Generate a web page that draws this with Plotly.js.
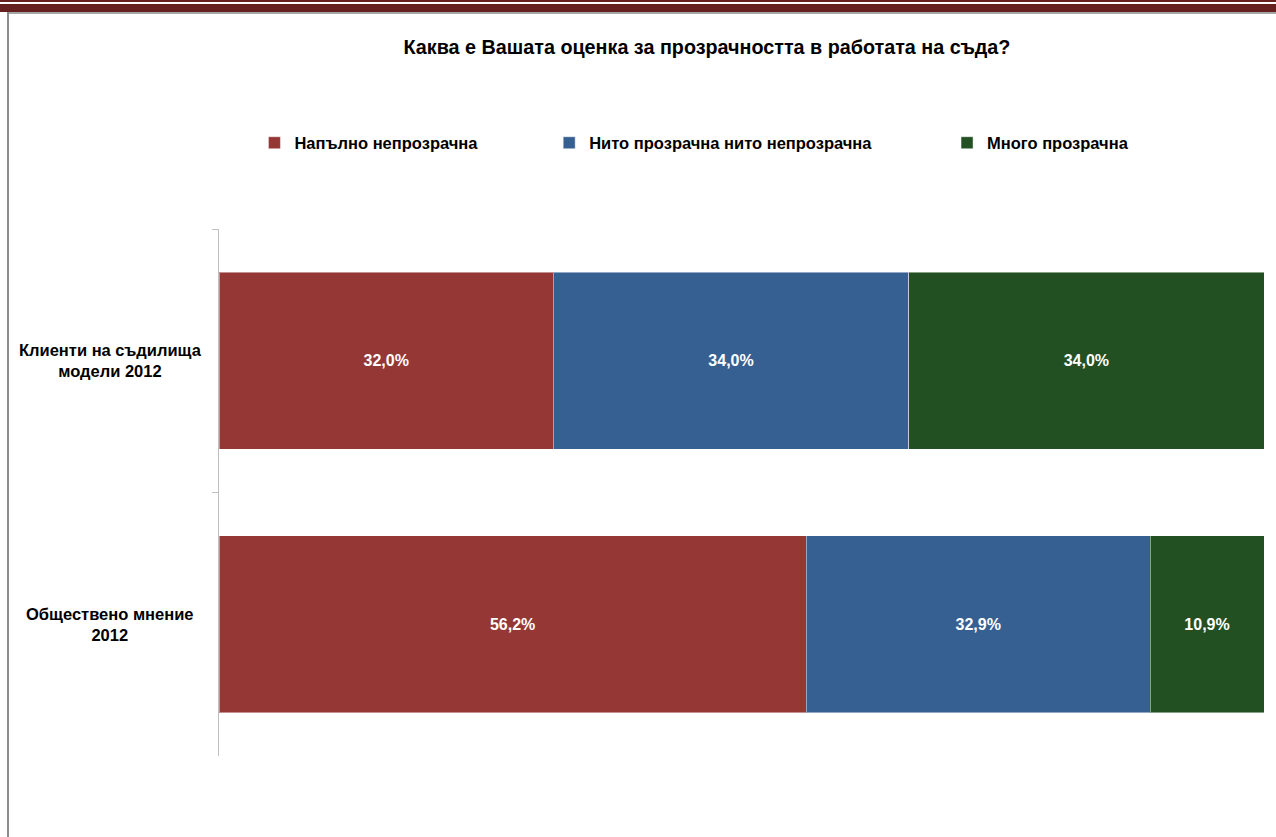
<!DOCTYPE html>
<html>
<head>
<meta charset="utf-8">
<script src="https://cdn.plot.ly/plotly-3.0.1.min.js"></script>
<style>
  html, body { margin: 0; padding: 0; background: #fff; }
  #wrap { position: relative; width: 1276px; height: 837px; overflow: hidden; }
  #chart { position: absolute; left: 0; top: 0; width: 1276px; height: 837px; }
  .deco { position: absolute; pointer-events: none; }
</style>
</head>
<body>
<div id="wrap">
  <div id="chart"></div>
  <div class="deco" style="left:0;top:0;width:1276px;height:2px;background:#66201f;"></div>
  <div class="deco" style="left:0;top:4px;width:1276px;height:8px;background:#66201f;"></div>
  <div class="deco" style="left:7px;top:12px;width:1269px;height:2px;background:#a6a6a6;"></div>
  <div class="deco" style="left:7px;top:12px;width:2px;height:825px;background:#8c8c8c;"></div>
</div>
<script>
const categories = ["Клиенти на съдилища модели 2012", "Обществено мнение 2012"];
const categoryLabels = ["Клиенти на съдилища<br>модели 2012", "Обществено мнение<br>2012"];
const seriesNames = ["Напълно непрозрачна", "Нито прозрачна нито непрозрачна", "Много прозрачна"];
const fullyOpaque = [32.0, 56.2];
const neither = [34.0, 32.9];
const veryTransparent = [34.0, 10.9];
const colors = ["#953735", "#376092", "#235022"];

const FONT = "Liberation Sans, Arial, sans-serif";
const seriesValues = [fullyOpaque, neither, veryTransparent];
const fmt = v => v.toFixed(1).replace(".", ",") + "%";
const legendIds = ["legend", "legend2", "legend3"];
const legendX = [0.1994, 0.4304, 0.7422];

const traces = seriesValues.map((vals, i) => ({
  type: "bar",
  orientation: "h",
  name: seriesNames[i],
  legend: legendIds[i],
  y: categories,
  x: vals,
  text: vals.map(fmt),
  textposition: "inside",
  insidetextanchor: "middle",
  textfont: { color: "#ffffff", size: 16, family: FONT, weight: "bold" },
  marker: { color: colors[i], line: { color: "rgba(255,255,255,0.45)", width: 1 } },
  hoverinfo: "skip"
}));

const legendBase = (x) => ({
  xref: "container", yref: "container",
  x: x, xanchor: "left",
  y: 1 - 143 / 837, yanchor: "middle",
  orientation: "h",
  bgcolor: "rgba(0,0,0,0)",
  font: { size: 16.5, family: FONT, color: "#000000", weight: "bold" },
  itemwidth: 30,
  itemclick: false
});

const layout = {
  width: 1276,
  height: 837,
  paper_bgcolor: "#ffffff",
  plot_bgcolor: "#ffffff",
  barmode: "stack",
  bargap: 0.33,
  margin: { l: 219, r: 12, t: 229, b: 81 },
  font: { family: FONT, color: "#000000" },
  title: {
    text: "<b>Каква е Вашата оценка за прозрачността в работата на съда?</b>",
    font: { size: 19.75, family: FONT, color: "#000000" },
    x: 707 / 1276, xref: "container", xanchor: "center",
    y: 1 - 47 / 837, yref: "container", yanchor: "middle"
  },
  showlegend: true,
  legend: legendBase(legendX[0]),
  legend2: legendBase(legendX[1]),
  legend3: legendBase(legendX[2]),
  annotations: categories.map((c, i) => ({
    xref: "paper", yref: "y",
    x: (110 - 219) / 1045, y: c,
    xanchor: "center", yanchor: "middle",
    align: "center",
    text: "<b>" + categoryLabels[i] + "</b>",
    showarrow: false,
    font: { size: 16.5, family: FONT, color: "#000000" }
  })),
  xaxis: {
    range: [0, 100],
    showgrid: false,
    zeroline: false,
    showline: false,
    showticklabels: false,
    ticks: "",
    fixedrange: true
  },
  yaxis: {
    type: "category",
    autorange: false,
    range: [1.5, -0.5],
    showgrid: false,
    zeroline: false,
    showline: true,
    linecolor: "#bfbfbf",
    linewidth: 1,
    ticks: "outside",
    tickson: "boundaries",
    ticklen: 6,
    tickcolor: "#bfbfbf",
    showticklabels: false,
    fixedrange: true
  }
};

Plotly.newPlot("chart", traces, layout, { displayModeBar: false, staticPlot: true });
</script>
</body>
</html>
